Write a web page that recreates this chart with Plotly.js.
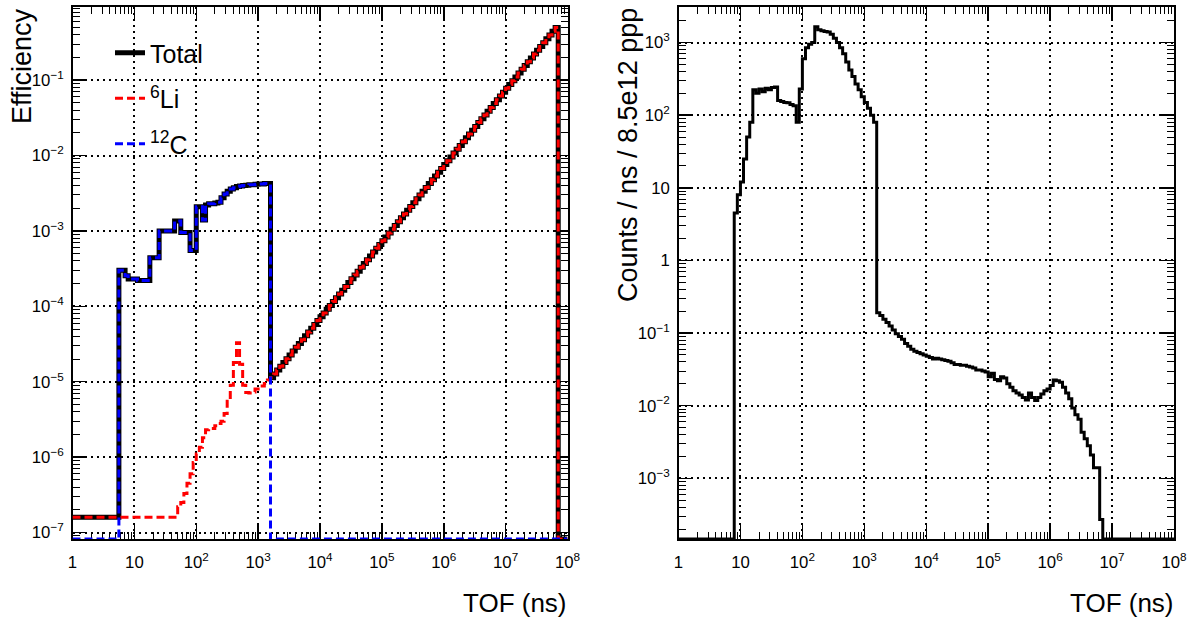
<!DOCTYPE html>
<html>
<head>
<meta charset="utf-8">
<script src="https://cdn.plot.ly/plotly-3.0.1.min.js"></script>
<style>
html,body{margin:0;padding:0;background:#fff;}
#chart{width:1192px;height:624px;}
</style>
</head>
<body>
<div id="chart"></div>
<script>
// Bin edges of TOF (ns), 20 bins per decade, 1 ns .. 1e8 ns
const tofEdges = [
  1, 1.122, 1.259, 1.413, 1.585, 1.778, 1.995, 2.239, 2.512, 2.818, 3.162, 3.548, 3.981, 4.467, 5.012, 5.623, 6.31, 7.079, 7.943, 8.913,
  10, 11.22, 12.59, 14.13, 15.85, 17.78, 19.95, 22.39, 25.12, 28.18, 31.62, 35.48, 39.81, 44.67, 50.12, 56.23, 63.1, 70.79, 79.43, 89.13,
  100, 112.2, 125.9, 141.3, 158.5, 177.8, 199.5, 223.9, 251.2, 281.8, 316.2, 354.8, 398.1, 446.7, 501.2, 562.3, 631, 707.9, 794.3, 891.3,
  1000, 1122, 1259, 1413, 1585, 1778, 1995, 2239, 2512, 2818, 3162, 3548, 3981, 4467, 5012, 5623, 6310, 7079, 7943, 8913,
  1e4, 1.122e4, 1.259e4, 1.413e4, 1.585e4, 1.778e4, 1.995e4, 2.239e4, 2.512e4, 2.818e4, 3.162e4, 3.548e4, 3.981e4, 4.467e4, 5.012e4, 5.623e4, 6.31e4, 7.079e4, 7.943e4, 8.913e4,
  1e5, 1.122e5, 1.259e5, 1.413e5, 1.585e5, 1.778e5, 1.995e5, 2.239e5, 2.512e5, 2.818e5, 3.162e5, 3.548e5, 3.981e5, 4.467e5, 5.012e5, 5.623e5, 6.31e5, 7.079e5, 7.943e5, 8.913e5,
  1e6, 1.122e6, 1.259e6, 1.413e6, 1.585e6, 1.778e6, 1.995e6, 2.239e6, 2.512e6, 2.818e6, 3.162e6, 3.548e6, 3.981e6, 4.467e6, 5.012e6, 5.623e6, 6.31e6, 7.079e6, 7.943e6, 8.913e6,
  1e7, 1.122e7, 1.259e7, 1.413e7, 1.585e7, 1.778e7, 1.995e7, 2.239e7, 2.512e7, 2.818e7, 3.162e7, 3.548e7, 3.981e7, 4.467e7, 5.012e7, 5.623e7, 6.31e7, 7.079e7, 7.943e7, 8.913e7,
  1e8
];

// Left panel: efficiency per bin (0 = empty bin)
const totalEff = [
  1.6e-7, 1.6e-7, 1.6e-7, 1.6e-7, 1.6e-7, 1.6e-7, 1.6e-7, 1.6e-7, 1.6e-7, 1.6e-7, 1.6e-7, 1.6e-7, 1.6e-7, 1.6e-7, 1.6e-7, 3.0e-4, 3.0e-4, 2.55e-4, 2.3e-4, 2.3e-4,
  2.3e-4, 2.2e-4, 2.2e-4, 2.2e-4, 2.2e-4, 4.4e-4, 4.4e-4, 4.4e-4, 1.0e-3, 1.0e-3, 1.0e-3, 1.0e-3, 1.0e-3, 1.35e-3, 1.35e-3, 9.5e-4, 9.5e-4, 9.5e-4, 5.5e-4, 5.5e-4,
  2.1e-3, 2.1e-3, 1.4e-3, 2.2e-3, 2.3e-3, 2.3e-3, 2.35e-3, 2.4e-3, 2.75e-3, 3.1e-3, 3.35e-3, 3.6e-3, 3.75e-3, 3.88e-3, 3.95e-3, 4.0e-3, 4.05e-3, 4.1e-3, 4.1e-3, 4.15e-3,
  4.2e-3, 4.2e-3, 4.25e-3, 4.25e-3, 1.130e-5, 1.269e-5, 1.426e-5, 1.601e-5, 1.799e-5, 2.020e-5, 2.270e-5, 2.550e-5, 2.863e-5, 3.217e-5, 3.613e-5, 4.059e-5, 4.560e-5, 5.122e-5, 5.752e-5, 6.463e-5,
  7.258e-5, 8.153e-5, 9.159e-5, 1.029e-4, 1.156e-4, 1.298e-4, 1.459e-4, 1.638e-4, 1.839e-4, 2.066e-4, 2.321e-4, 2.607e-4, 2.928e-4, 3.289e-4, 3.695e-4, 4.151e-4, 4.662e-4, 5.237e-4, 5.882e-4, 6.608e-4,
  7.422e-4, 8.336e-4, 9.365e-4, 1.053e-3, 1.183e-3, 1.327e-3, 1.491e-3, 1.674e-3, 1.880e-3, 2.112e-3, 2.373e-3, 2.665e-3, 2.993e-3, 3.362e-3, 3.777e-3, 4.242e-3, 4.765e-3, 5.352e-3, 6.011e-3, 6.753e-3,
  7.584e-3, 8.519e-3, 9.59e-3, 1.078e-2, 1.211e-2, 1.360e-2, 1.528e-2, 1.716e-2, 1.927e-2, 2.165e-2, 2.432e-2, 2.732e-2, 3.069e-2, 3.447e-2, 3.872e-2, 4.350e-2, 4.887e-2, 5.489e-2, 6.166e-2, 6.926e-2,
  7.780e-2, 8.739e-2, 9.818e-2, 0.1103, 0.1239, 0.1392, 0.1564, 0.1756, 0.1972, 0.2215, 0.2489, 0.2796, 0.3140, 0.3528, 0.3963, 0.4451, 0.5000, 0, 0, 0
];

const li6Eff = [
  1.6e-7, 1.6e-7, 1.6e-7, 1.6e-7, 1.6e-7, 1.6e-7, 1.6e-7, 1.6e-7, 1.6e-7, 1.6e-7, 1.6e-7, 1.6e-7, 1.6e-7, 1.6e-7, 1.6e-7, 1.6e-7, 1.6e-7, 1.6e-7, 1.6e-7, 1.6e-7,
  1.6e-7, 1.6e-7, 1.6e-7, 1.6e-7, 1.6e-7, 1.6e-7, 1.6e-7, 1.6e-7, 1.6e-7, 1.6e-7, 1.6e-7, 1.6e-7, 1.6e-7, 1.6e-7, 2.2e-7, 2.5e-7, 3.3e-7, 4.5e-7, 6.0e-7, 8.5e-7,
  1.1e-6, 1.35e-6, 1.8e-6, 2.3e-6, 2.4e-6, 2.4e-6, 2.6e-6, 2.8e-6, 3.0e-6, 3.8e-6, 5.5e-6, 9.0e-6, 1.8e-5, 3.3e-5, 1.7e-5, 9.0e-6, 7.2e-6, 7.1e-6, 7.3e-6, 8.0e-6,
  8.8e-6, 8.8e-6, 9.5e-6, 1.05e-5, 1.130e-5, 1.269e-5, 1.426e-5, 1.601e-5, 1.799e-5, 2.020e-5, 2.270e-5, 2.550e-5, 2.863e-5, 3.217e-5, 3.613e-5, 4.059e-5, 4.560e-5, 5.122e-5, 5.752e-5, 6.463e-5,
  7.258e-5, 8.153e-5, 9.159e-5, 1.029e-4, 1.156e-4, 1.298e-4, 1.459e-4, 1.638e-4, 1.839e-4, 2.066e-4, 2.321e-4, 2.607e-4, 2.928e-4, 3.289e-4, 3.695e-4, 4.151e-4, 4.662e-4, 5.237e-4, 5.882e-4, 6.608e-4,
  7.422e-4, 8.336e-4, 9.365e-4, 1.053e-3, 1.183e-3, 1.327e-3, 1.491e-3, 1.674e-3, 1.880e-3, 2.112e-3, 2.373e-3, 2.665e-3, 2.993e-3, 3.362e-3, 3.777e-3, 4.242e-3, 4.765e-3, 5.352e-3, 6.011e-3, 6.753e-3,
  7.584e-3, 8.519e-3, 9.59e-3, 1.078e-2, 1.211e-2, 1.360e-2, 1.528e-2, 1.716e-2, 1.927e-2, 2.165e-2, 2.432e-2, 2.732e-2, 3.069e-2, 3.447e-2, 3.872e-2, 4.350e-2, 4.887e-2, 5.489e-2, 6.166e-2, 6.926e-2,
  7.780e-2, 8.739e-2, 9.818e-2, 0.1103, 0.1239, 0.1392, 0.1564, 0.1756, 0.1972, 0.2215, 0.2489, 0.2796, 0.3140, 0.3528, 0.3963, 0.4451, 0.5000, 0, 0, 0
];

const c12Eff = [
  0, 0, 0, 0, 0, 0, 0, 0, 0, 0, 0, 0, 0, 0, 0, 3.0e-4, 3.0e-4, 2.55e-4, 2.3e-4, 2.3e-4,
  2.3e-4, 2.2e-4, 2.2e-4, 2.2e-4, 2.2e-4, 4.4e-4, 4.4e-4, 4.4e-4, 1.0e-3, 1.0e-3, 1.0e-3, 1.0e-3, 1.0e-3, 1.35e-3, 1.35e-3, 9.5e-4, 9.5e-4, 9.5e-4, 5.5e-4, 5.5e-4,
  2.1e-3, 2.1e-3, 1.4e-3, 2.2e-3, 2.3e-3, 2.3e-3, 2.35e-3, 2.4e-3, 2.75e-3, 3.1e-3, 3.35e-3, 3.6e-3, 3.75e-3, 3.85e-3, 3.95e-3, 4.0e-3, 4.05e-3, 4.1e-3, 4.1e-3, 4.15e-3,
  4.2e-3, 4.2e-3, 4.25e-3, 4.25e-3, 0, 0, 0, 0, 0, 0, 0, 0, 0, 0, 0, 0, 0, 0, 0, 0,
  0, 0, 0, 0, 0, 0, 0, 0, 0, 0, 0, 0, 0, 0, 0, 0, 0, 0, 0, 0,
  0, 0, 0, 0, 0, 0, 0, 0, 0, 0, 0, 0, 0, 0, 0, 0, 0, 0, 0, 0,
  0, 0, 0, 0, 0, 0, 0, 0, 0, 0, 0, 0, 0, 0, 0, 0, 0, 0, 0, 0,
  0, 0, 0, 0, 0, 0, 0, 0, 0, 0, 0, 0, 0, 0, 0, 0, 0, 0, 0, 0
];

// Right panel: counts / ns / 8.5e12 ppp per bin (0 = empty bin)
const countsRate = [
  0, 0, 0, 0, 0, 0, 0, 0, 0, 0, 0, 0, 0, 0, 0, 0, 0, 0, 4.5, 8,
  12, 25, 50, 80, 225, 200, 230, 210, 235, 225, 240, 245, 160, 155, 150, 148, 140, 135, 80, 230,
  600, 850, 950, 1000, 1650, 1500, 1450, 1420, 1400, 1300, 1150, 1000, 850, 700, 540, 420, 340, 270, 225, 180,
  150, 125, 100, 80, 0.19, 0.175, 0.155, 0.14, 0.125, 0.11, 0.098, 0.09, 0.082, 0.072, 0.066, 0.06, 0.056, 0.054, 0.052, 0.05,
  0.048, 0.046, 0.044, 0.045, 0.044, 0.043, 0.042, 0.041, 0.039, 0.037, 0.037, 0.036, 0.036, 0.035, 0.034, 0.033, 0.031, 0.031, 0.030, 0.029,
  0.025, 0.028, 0.023, 0.022, 0.025, 0.024, 0.020, 0.018, 0.016, 0.015, 0.014, 0.013, 0.012, 0.015, 0.013, 0.0118, 0.013, 0.0145, 0.016, 0.017,
  0.019, 0.0225, 0.022, 0.021, 0.018, 0.015, 0.0125, 0.0093, 0.0075, 0.0065, 0.0043, 0.0035, 0.0028, 0.0021, 0.0014, 0.0014, 0.00027, 0, 0, 0,
  0, 0, 0, 0, 0, 0, 0, 0, 0, 0, 0, 0, 0, 0, 0, 0, 0, 0, 0, 0
];

const seriesNames = ['Total', '<sup>6</sup>Li', '<sup>12</sup>C'];
const axisTitles = {left: 'Efficiency', right: 'Counts / ns / 8.5e12 ppp', x: 'TOF (ns)'};

// axis ranges in log10 units
const leftYRange = [-7.086, -0.03];
const rightYRange = [-3.836, 3.49];
const xRange = [0, 8];

// histogram step builder: empty bins are drawn on the axis floor (as ROOT does on log axes)
function stepY(vals, floorLog) {
  const floor = Math.pow(10, floorLog);
  const y = vals.map(v => (v > 0 ? v : floor));
  y.push(y[y.length - 1]);
  return y;
}

const FONT = 'Liberation Sans, Arial, Helvetica, sans-serif';

const traces = [
  {x: tofEdges, y: stepY(totalEff, leftYRange[0]), xaxis: 'x', yaxis: 'y', type: 'scatter', mode: 'lines',
   line: {shape: 'hv', color: '#000000', width: 5}, name: seriesNames[0], legendgroup: 'g1', hoverinfo: 'skip'},
  {x: tofEdges, y: stepY(li6Eff, leftYRange[0]), xaxis: 'x', yaxis: 'y', type: 'scatter', mode: 'lines',
   line: {shape: 'hv', color: '#ff0000', width: 3, dash: '8px,4px'}, name: seriesNames[1], legendgroup: 'g2', hoverinfo: 'skip'},
  {x: tofEdges, y: stepY(c12Eff, leftYRange[0]), xaxis: 'x', yaxis: 'y', type: 'scatter', mode: 'lines',
   line: {shape: 'hv', color: '#0000ff', width: 3, dash: '8px,4px'}, name: seriesNames[2], legendgroup: 'g3', hoverinfo: 'skip'},
  {x: tofEdges, y: stepY(countsRate, rightYRange[0]), xaxis: 'x2', yaxis: 'y2', type: 'scatter', mode: 'lines',
   line: {shape: 'hv', color: '#000000', width: 3}, showlegend: false, hoverinfo: 'skip'}
];

function axis(extra) {
  return Object.assign({
    type: 'log', showline: true, linecolor: '#000', linewidth: 2, mirror: 'ticks',
    ticks: 'inside', ticklen: 14, tickwidth: 1.5, tickcolor: '#000',
    tickmode: 'linear', tick0: 0, dtick: 1, exponentformat: 'power',
    showgrid: true, gridcolor: '#000', gridwidth: 2, griddash: '2px,4px',
    minor: {ticks: 'inside', ticklen: 7, tickwidth: 1, tickcolor: '#000', dtick: 'D1', showgrid: false},
    tickfont: {family: FONT, size: 13.4, color: '#000'},
    zeroline: false, layer: 'below traces', fixedrange: true
  }, extra);
}

const W = 1192, H = 624;
const yDom = [1 - 539 / H, 1 - 7 / H];

const layout = {
  width: W, height: H,
  margin: {l: 0, r: 0, t: 0, b: 0},
  paper_bgcolor: '#fff', plot_bgcolor: '#fff',
  showlegend: true,
  xaxis: axis({domain: [72.5 / W, 567.5 / W], range: xRange, anchor: 'y', ticklabelstandoff: 8}),
  yaxis: axis({domain: yDom, range: leftYRange, anchor: 'x', ticklabelstandoff: 4}),
  xaxis2: axis({domain: [678.5 / W, 1174 / W], range: xRange, anchor: 'y2', ticklabelstandoff: 8}),
  yaxis2: axis({domain: yDom, range: rightYRange, anchor: 'x2', ticklabelstandoff: 4}),
  legend: {
    x: 110 / W, y: 1 - 30 / H, xanchor: 'left', yanchor: 'top',
    font: {family: FONT, size: 25, color: '#000'},
    bgcolor: 'rgba(0,0,0,0)', borderwidth: 0,
    tracegroupgap: 10, itemwidth: 30, traceorder: 'grouped'
  },
  annotations: [
    {text: axisTitles.left, xref: 'paper', yref: 'paper', x: 22 / W, y: 1 - 6 / H,
     xanchor: 'center', yanchor: 'top', textangle: -90, showarrow: false,
     font: {family: FONT, size: 27, color: '#000'}},
    {text: axisTitles.right, xref: 'paper', yref: 'paper', x: 628 / W, y: 1 - 6 / H,
     xanchor: 'center', yanchor: 'top', textangle: -90, showarrow: false,
     font: {family: FONT, size: 27, color: '#000'}},
    {text: axisTitles.x, xref: 'paper', yref: 'paper', x: 569 / W, y: 1 - 603 / H,
     xanchor: 'right', yanchor: 'middle', showarrow: false,
     font: {family: FONT, size: 26, color: '#000'}},
    {text: axisTitles.x, xref: 'paper', yref: 'paper', x: 1176 / W, y: 1 - 603 / H,
     xanchor: 'right', yanchor: 'middle', showarrow: false,
     font: {family: FONT, size: 26, color: '#000'}}
  ]
};

Plotly.newPlot('chart', traces, layout, {staticPlot: true, displayModeBar: false});
</script>
</body>
</html>
